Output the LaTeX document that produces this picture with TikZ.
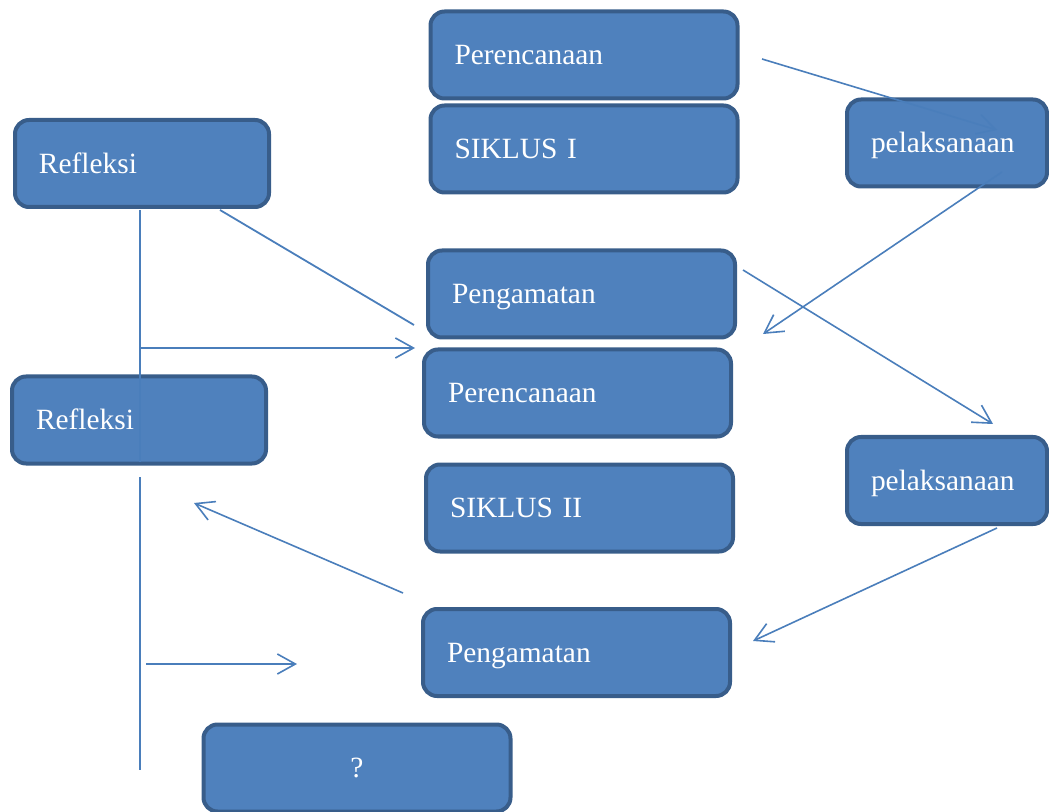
\documentclass[tikz,border=0pt]{standalone}
\usepackage{fontspec}
\setmainfont{Liberation Serif}
\usetikzlibrary{arrows.meta}
\definecolor{kotakfill}{HTML}{4F81BD}
\definecolor{kotakline}{HTML}{385D8A}
\definecolor{garis}{HTML}{4A7EBB}
\tikzset{
  kotak/.style={draw=kotakline, fill=kotakfill, line width=2pt, rounded corners=7pt,
    text=white, font={\fontsize{14.7pt}{17pt}\selectfont}, minimum height=43.5pt,
    inner xsep=12pt, text height=9.8pt, text depth=0pt, align=left},
  lebar/.style={kotak, text width=129.5pt},
  sedang/.style={kotak, text width=103pt},
  kecil/.style={kotak, text width=76pt},
  panah/.style={draw=garis, line width=0.8pt, -{Straight Barb[length=9pt,width=10pt]}},
  garisan/.style={draw=garis, line width=0.9pt},
}
\begin{document}
\begin{tikzpicture}[x=0.5pt,y=-0.5pt]
  \useasboundingbox (0,0) rectangle (1049,812);
  %Siklus I
  \node[lebar] (per1) at (584,55) {Perencanaan};
  \node[lebar] (sik1) at (584,149) {SIKLUS I};
  \node[kecil] (pel1) at (947,143) {pelaksanaan};
  \node[lebar] (pen1) at (581.5,294) {Pengamatan};
  \node[sedang] (ref1) at (142,163.5) {Refleksi};
  %Siklus II
  \node[lebar] (per2) at (577.5,393) {Perencanaan};
  \node[lebar] (sik2) at (579.5,508) {SIKLUS II};
  \node[kecil] (pel2) at (947,480.5) {pelaksanaan};
  \node[lebar] (pen2) at (576.5,652.5) {Pengamatan};
  \node[sedang] (ref2) at (139,420) {Refleksi};
  \node[lebar, align=center] (tanya) at (357,768) {?};
  %ends of the lines
  \coordinate (a1) at (762,59);   \coordinate (a2) at (997,130);
  \coordinate (b1) at (1002,172); \coordinate (b2) at (763,334);
  \coordinate (c1) at (743,270);  \coordinate (c2) at (993,424);
  \coordinate (d1) at (997,528);  \coordinate (d2) at (753,641);
  \coordinate (e1) at (403,593);  \coordinate (e2) at (194,503);
  \coordinate (f1) at (220,210);  \coordinate (f2) at (414,325);
  \coordinate (g1) at (140,348);  \coordinate (g2) at (415,348);
  \coordinate (h1) at (146,664);  \coordinate (h2) at (297,664);
  \coordinate (v1) at (140,210);  \coordinate (v2) at (140,462);
  \coordinate (v3) at (140,477);  \coordinate (v4) at (140,770);
  %lines
  \draw[panah] (a1) -- (a2);
  \draw[panah] (b1) -- (b2);
  \draw[panah] (c1) -- (c2);
  \draw[panah] (d1) -- (d2);
  \draw[panah] (e1) -- (e2);
  \draw[garisan] (f1) -- (f2);
  \draw[panah] (g1) -- (g2);
  \draw[panah] (h1) -- (h2);
  \draw[garisan] (v1) -- (v2);
  \draw[garisan] (v3) -- (v4);
\end{tikzpicture}
\end{document}
